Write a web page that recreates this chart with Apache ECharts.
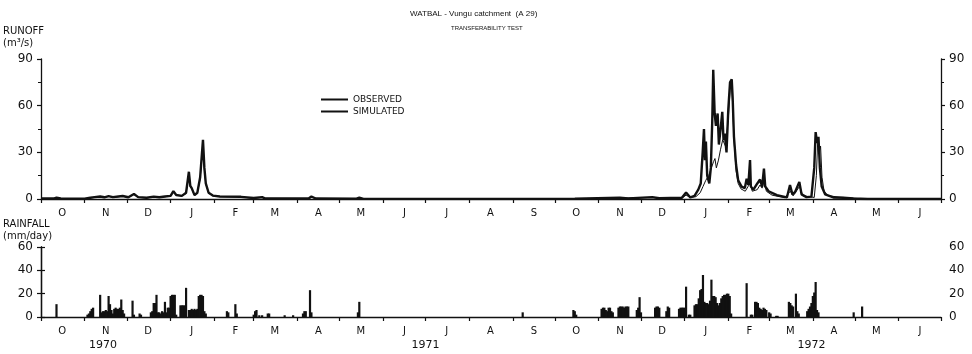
<!DOCTYPE html>
<html>
<head>
<meta charset="utf-8">
<script src="https://cdn.jsdelivr.net/npm/echarts@6/dist/echarts.min.js"></script>
<style>
html, body { margin: 0; background: #fff; }
#chart { width: 972px; height: 354px; }
</style>
</head>
<body>
<div id="chart"></div>
<script>
// daily rainfall (mm/day), only rainy days
var rainfall = [
  ['1970-10-12', 11],
  ['1970-11-03', 2], ['1970-11-04', 3], ['1970-11-05', 5], ['1970-11-06', 7], ['1970-11-07', 8],
  ['1970-11-12', 19], ['1970-11-13', 4], ['1970-11-14', 5], ['1970-11-15', 5], ['1970-11-16', 6], ['1970-11-17', 5],
  ['1970-11-18', 18], ['1970-11-19', 11], ['1970-11-20', 6], ['1970-11-21', 3],
  ['1970-11-22', 7], ['1970-11-23', 8], ['1970-11-24', 7], ['1970-11-25', 7], ['1970-11-26', 8],
  ['1970-11-27', 15], ['1970-11-28', 6], ['1970-11-29', 3],
  ['1970-12-05', 14], ['1970-12-06', 2], ['1970-12-10', 3], ['1970-12-11', 2],
  ['1970-12-18', 4], ['1970-12-19', 5], ['1970-12-20', 12], ['1970-12-21', 12], ['1970-12-22', 19],
  ['1970-12-23', 4], ['1970-12-24', 4], ['1970-12-25', 3], ['1970-12-26', 5], ['1970-12-27', 4],
  ['1970-12-28', 13], ['1970-12-29', 4], ['1970-12-30', 8], ['1970-12-31', 8],
  ['1971-01-01', 18], ['1971-01-02', 19], ['1971-01-03', 19], ['1971-01-04', 19], ['1971-01-05', 2],
  ['1971-01-08', 10], ['1971-01-09', 10], ['1971-01-10', 10], ['1971-01-11', 10], ['1971-01-12', 25],
  ['1971-01-14', 6], ['1971-01-15', 6], ['1971-01-16', 7], ['1971-01-17', 6], ['1971-01-18', 7], ['1971-01-19', 6], ['1971-01-20', 7],
  ['1971-01-21', 18], ['1971-01-22', 19], ['1971-01-23', 19], ['1971-01-24', 18], ['1971-01-25', 5], ['1971-01-26', 3],
  ['1971-02-10', 5], ['1971-02-11', 4], ['1971-02-16', 11], ['1971-02-17', 3],
  ['1971-03-01', 2], ['1971-03-02', 5], ['1971-03-03', 6], ['1971-03-05', 1.5], ['1971-03-07', 1.5],
  ['1971-03-11', 3], ['1971-03-12', 3], ['1971-03-23', 1.5], ['1971-03-29', 1.5],
  ['1971-04-05', 3], ['1971-04-06', 5], ['1971-04-07', 5], ['1971-04-10', 23], ['1971-04-11', 4],
  ['1971-05-14', 4], ['1971-05-15', 13],
  ['1971-09-08', 4],
  ['1971-10-14', 6], ['1971-10-15', 5], ['1971-10-16', 2],
  ['1971-11-03', 7], ['1971-11-04', 8], ['1971-11-05', 8], ['1971-11-06', 6], ['1971-11-07', 5], ['1971-11-08', 8], ['1971-11-09', 8],
  ['1971-11-10', 5], ['1971-11-11', 4],
  ['1971-11-15', 8], ['1971-11-16', 9], ['1971-11-17', 9], ['1971-11-18', 9], ['1971-11-19', 8],
  ['1971-11-20', 9], ['1971-11-21', 9], ['1971-11-22', 9],
  ['1971-11-28', 6], ['1971-11-29', 8], ['1971-11-30', 17], ['1971-12-01', 4],
  ['1971-12-11', 8], ['1971-12-12', 9], ['1971-12-13', 9], ['1971-12-14', 8],
  ['1971-12-19', 5], ['1971-12-20', 9], ['1971-12-21', 8],
  ['1971-12-28', 7], ['1971-12-29', 8], ['1971-12-30', 8], ['1971-12-31', 8], ['1972-01-01', 8],
  ['1972-01-02', 26], ['1972-01-04', 2], ['1972-01-05', 2],
  ['1972-01-08', 10], ['1972-01-09', 11], ['1972-01-10', 11], ['1972-01-11', 16], ['1972-01-12', 23], ['1972-01-13', 24],
  ['1972-01-14', 36], ['1972-01-15', 13], ['1972-01-16', 12], ['1972-01-17', 12], ['1972-01-18', 11],
  ['1972-01-19', 14], ['1972-01-20', 32], ['1972-01-21', 18], ['1972-01-22', 18], ['1972-01-23', 17], ['1972-01-24', 12],
  ['1972-01-25', 10], ['1972-01-26', 12], ['1972-01-27', 16], ['1972-01-28', 18], ['1972-01-29', 19], ['1972-01-30', 19],
  ['1972-01-31', 20], ['1972-02-01', 20], ['1972-02-02', 18], ['1972-02-03', 3],
  ['1972-02-14', 29], ['1972-02-17', 2], ['1972-02-18', 2],
  ['1972-02-20', 13], ['1972-02-21', 13], ['1972-02-22', 12], ['1972-02-23', 8], ['1972-02-24', 7], ['1972-02-25', 6],
  ['1972-02-26', 8], ['1972-02-27', 7], ['1972-02-28', 6], ['1972-03-01', 4], ['1972-03-02', 3],
  ['1972-03-06', 1], ['1972-03-07', 1],
  ['1972-03-15', 13], ['1972-03-16', 12], ['1972-03-17', 10], ['1972-03-18', 9], ['1972-03-20', 20],
  ['1972-03-21', 5], ['1972-03-22', 3],
  ['1972-03-28', 5], ['1972-03-29', 7], ['1972-03-30', 9], ['1972-03-31', 12], ['1972-04-01', 18], ['1972-04-02', 21],
  ['1972-04-03', 30], ['1972-04-04', 6], ['1972-04-05', 4],
  ['1972-04-30', 4], ['1972-05-06', 9]
];

// observed runoff (m3/s)
var observed = [
  ['1970-10-01', 0.3], ['1970-10-10', 0.3], ['1970-10-12', 0.8], ['1970-10-15', 0.3], ['1970-11-01', 0.2],
  ['1970-11-05', 0.7], ['1970-11-08', 1.1], ['1970-11-12', 1.5], ['1970-11-15', 1.0], ['1970-11-18', 1.7],
  ['1970-11-21', 1.1], ['1970-11-25', 1.5], ['1970-11-28', 1.8], ['1970-12-02', 1.0], ['1970-12-06', 3.0],
  ['1970-12-09', 1.1], ['1970-12-15', 0.7], ['1970-12-20', 1.4], ['1970-12-24', 1.0], ['1970-12-28', 1.5],
  ['1971-01-01', 1.9], ['1971-01-03', 4.5], ['1971-01-05', 2.4], ['1971-01-09', 1.9], ['1971-01-12', 3.5],
  ['1971-01-14', 16], ['1971-01-15', 8], ['1971-01-16', 6.5], ['1971-01-18', 2.3], ['1971-01-20', 3.8],
  ['1971-01-22', 13], ['1971-01-24', 36], ['1971-01-25', 19], ['1971-01-26', 9.5], ['1971-01-28', 3.8],
  ['1971-01-31', 2.0], ['1971-02-05', 1.5], ['1971-02-20', 1.3], ['1971-03-01', 0.5], ['1971-03-07', 1.0],
  ['1971-03-09', 0.4], ['1971-04-09', 0.3], ['1971-04-11', 1.3], ['1971-04-14', 0.3], ['1971-05-13', 0.2],
  ['1971-05-15', 0.6], ['1971-05-18', 0.1], ['1971-10-15', 0.1], ['1971-11-16', 0.5], ['1971-12-09', 0.9],
  ['1971-12-30', 0.5], ['1972-01-02', 2.5], ['1972-01-05', 1.0], ['1972-01-09', 1.5], ['1972-01-12', 4],
  ['1972-01-14', 8], ['1972-01-16', 12], ['1972-01-18', 15], ['1972-01-20', 20], ['1972-01-21 12:00', 24],
  ['1972-01-22 12:00', 26], ['1972-01-23 12:00', 20], ['1972-01-25', 25], ['1972-01-26 12:00', 32],
  ['1972-01-28', 38], ['1972-01-30', 34], ['1972-02-01', 52], ['1972-02-02 06:00', 70], ['1972-02-03 06:00', 74],
  ['1972-02-04', 62], ['1972-02-05', 38], ['1972-02-06 12:00', 18], ['1972-02-08', 10], ['1972-02-10', 6.5],
  ['1972-02-13', 5], ['1972-02-15', 8], ['1972-02-16 12:00', 10], ['1972-02-18', 5], ['1972-02-21 12:00', 6],
  ['1972-02-23 12:00', 9], ['1972-02-25', 7], ['1972-02-26 12:00', 12], ['1972-02-28', 5], ['1972-03-03', 2.5],
  ['1972-03-12', 0.8], ['1972-03-16', 5], ['1972-03-18', 2], ['1972-03-22 12:00', 8], ['1972-03-25', 2],
  ['1972-04-02', 1], ['1972-04-03 12:00', 15], ['1972-04-04 12:00', 38], ['1972-04-05 12:00', 30],
  ['1972-04-06 12:00', 34], ['1972-04-07 12:00', 14], ['1972-04-09', 5], ['1972-04-12', 2], ['1972-04-25', 0.8],
  ['1972-05-05', 0.2], ['1972-07-01', 0]
];

// simulated runoff (m3/s)
var simulated = [
  ['1970-10-01', 0.3], ['1970-10-10', 0.3], ['1970-10-12', 0.9], ['1970-10-15', 0.3], ['1970-11-01', 0.2],
  ['1970-11-05', 0.8], ['1970-11-08', 1.2], ['1970-11-12', 1.6], ['1970-11-15', 1.1], ['1970-11-18', 1.8],
  ['1970-11-21', 1.2], ['1970-11-25', 1.6], ['1970-11-28', 1.9], ['1970-12-02', 1.1], ['1970-12-06', 3.2],
  ['1970-12-09', 1.2], ['1970-12-15', 0.8], ['1970-12-20', 1.5], ['1970-12-24', 1.1], ['1970-12-28', 1.6],
  ['1971-01-01', 2.0], ['1971-01-03', 5.0], ['1971-01-05', 2.6], ['1971-01-09', 2.0], ['1971-01-12', 4.0],
  ['1971-01-14', 17.5], ['1971-01-15', 8.5], ['1971-01-16', 7.0], ['1971-01-18', 2.5], ['1971-01-20', 4.0],
  ['1971-01-22', 14], ['1971-01-24', 38], ['1971-01-25', 20], ['1971-01-26', 10], ['1971-01-28', 4],
  ['1971-01-31', 2.2], ['1971-02-05', 1.6], ['1971-02-20', 1.4], ['1971-03-01', 0.6], ['1971-03-07', 1.2],
  ['1971-03-09', 0.4], ['1971-04-09', 0.3], ['1971-04-11', 1.6], ['1971-04-14', 0.3], ['1971-05-13', 0.2],
  ['1971-05-15', 0.8], ['1971-05-18', 0.1], ['1971-10-15', 0.2], ['1971-11-16', 0.8], ['1971-11-22', 0.4],
  ['1971-12-09', 1.2], ['1971-12-14', 0.5], ['1971-12-30', 0.8], ['1972-01-02', 4.2], ['1972-01-05', 1.0],
  ['1972-01-08', 2], ['1972-01-10 16:00', 6], ['1972-01-12 10:00', 10], ['1972-01-13 19:00', 30],
  ['1972-01-14 17:00', 45], ['1972-01-15 10:00', 25], ['1972-01-16 02:00', 37], ['1972-01-17', 15],
  ['1972-01-18 12:00', 10], ['1972-01-19 14:00', 20], ['1972-01-20 14:00', 50], ['1972-01-21 07:00', 83],
  ['1972-01-22 07:00', 55], ['1972-01-23 05:00', 47], ['1972-01-24 10:00', 55], ['1972-01-25 07:00', 35],
  ['1972-01-26 12:00', 45], ['1972-01-27 17:00', 56], ['1972-01-28 14:00', 38], ['1972-01-29 12:00', 42],
  ['1972-01-30 17:00', 30], ['1972-02-01', 58], ['1972-02-02 05:00', 75], ['1972-02-03 10:00', 77],
  ['1972-02-04 02:00', 65], ['1972-02-05', 40], ['1972-02-06 12:00', 22], ['1972-02-08', 12],
  ['1972-02-10 10:00', 8], ['1972-02-12 17:00', 7], ['1972-02-14', 13], ['1972-02-15 05:00', 9],
  ['1972-02-16 10:00', 25], ['1972-02-17', 8], ['1972-02-18 19:00', 6], ['1972-02-21 14:00', 10],
  ['1972-02-23 12:00', 12.5], ['1972-02-25', 8], ['1972-02-26 07:00', 19.5], ['1972-02-27 05:00', 8],
  ['1972-02-29 14:00', 5], ['1972-03-06 12:00', 2.5], ['1972-03-13 14:00', 1], ['1972-03-15 19:00', 9],
  ['1972-03-17 12:00', 3], ['1972-03-19 10:00', 4.5], ['1972-03-22 10:00', 11], ['1972-03-24', 3],
  ['1972-03-27 12:00', 1.2], ['1972-03-31', 1.5], ['1972-04-02', 20], ['1972-04-03', 43], ['1972-04-04', 36],
  ['1972-04-05', 40], ['1972-04-06', 20], ['1972-04-07 07:00', 8], ['1972-04-09 17:00', 3],
  ['1972-04-15 14:00', 1], ['1972-04-22 17:00', 0.8], ['1972-04-29 19:00', 0.3], ['1972-05-10', 0],
  ['1972-07-01', 0]
];

var monthLetters = ['J', 'F', 'M', 'A', 'M', 'J', 'J', 'A', 'S', 'O', 'N', 'D'];
var yearLabelDates = ['1970-11-14', '1971-07-01', '1972-03-31'];

// x axis runs in days from 1 Oct 1970
var T0 = Date.UTC(1970, 9, 1);
function dayOf(s) {
  var m = s.match(/(\d+)-(\d+)-(\d+)(?: (\d+):(\d+))?/);
  return (Date.UTC(+m[1], +m[2] - 1, +m[3], +(m[4] || 0), +(m[5] || 0)) - T0) / 86400000;
}
function dateOf(d) { return new Date(T0 + d * 86400000); }
function toXY(list) { return list.map(function (p) { return [dayOf(p[0]), p[1]]; }); }

var monthStarts = [], monthMids = [];
for (var i = 0; i <= 21; i++) {
  monthStarts.push((Date.UTC(1970, 9 + i, 1) - T0) / 86400000);
  if (i < 21) monthMids.push((Date.UTC(1970, 9 + i, 16) - T0) / 86400000);
}
var lastDay = monthStarts[21];
var yearDays = yearLabelDates.map(dayOf);

var ink = '#111';
var font = 'DejaVu Sans';
var titleFont = 'Liberation Sans';

function monthAxis(gridIndex) {
  return {
    type: 'value',
    gridIndex: gridIndex,
    min: 0,
    max: lastDay,
    axisLine: { lineStyle: { color: ink, width: 1.3 } },
    axisTick: { customValues: monthStarts, length: 4, lineStyle: { color: ink, width: 1.2 } },
    axisLabel: {
      customValues: monthMids,
      color: ink, fontSize: 10, fontFamily: font, margin: 9,
      formatter: function (v) { return monthLetters[dateOf(v).getUTCMonth()]; }
    },
    splitLine: { show: false }
  };
}

function valueAxis(gridIndex, pos, max, step, minor) {
  return {
    type: 'value',
    gridIndex: gridIndex,
    position: pos,
    min: 0, max: max, interval: step,
    axisLine: { show: true, lineStyle: { color: ink, width: 1.3 } },
    axisTick: { show: true, length: 4, lineStyle: { color: ink, width: 1.2 } },
    minorTick: { show: minor, splitNumber: 2, length: 3, lineStyle: { color: ink } },
    axisLabel: { color: ink, fontSize: 12, fontFamily: font, margin: 8 },
    splitLine: { show: false }
  };
}

var chart = echarts.init(document.getElementById('chart'));
chart.setOption({
  animation: false,
  backgroundColor: '#fff',
  textStyle: { fontFamily: font, color: ink },
  title: [
    { text: 'WATBAL - Vungu catchment  (A 29)', left: 410, top: 10, padding: 0,
      textStyle: { fontSize: 8, fontWeight: 'normal', color: ink, fontFamily: titleFont } },
    { text: 'TRANSFERABILITY TEST', left: 451, top: 25, padding: 0,
      textStyle: { fontSize: 6, fontWeight: 'normal', color: ink, fontFamily: titleFont } },
    { text: 'RUNOFF\n(m\u00b3/s)', left: 3, top: 25, padding: 0,
      textStyle: { fontSize: 10, lineHeight: 12, fontWeight: 'normal', color: ink, fontFamily: font } },
    { text: 'RAINFALL\n(mm/day)', left: 3, top: 218, padding: 0,
      textStyle: { fontSize: 10, lineHeight: 12, fontWeight: 'normal', color: ink, fontFamily: font } }
  ],
  legend: {
    data: ['OBSERVED', 'SIMULATED'],
    orient: 'vertical',
    left: 320, top: 95,
    padding: 0,
    itemGap: 3,
    itemWidth: 27, itemHeight: 9,
    itemStyle: { opacity: 0 },
    textStyle: { fontSize: 9, color: ink, fontFamily: font }
  },
  grid: [
    { left: 41, right: 31, top: 59, height: 140 },
    { left: 41, right: 31, top: 247, height: 70 }
  ],
  xAxis: [
    monthAxis(0),
    monthAxis(1),
    {
      type: 'value', gridIndex: 1, position: 'bottom', offset: 14,
      min: 0, max: lastDay,
      axisLine: { show: false }, axisTick: { show: false }, splitLine: { show: false },
      axisLabel: {
        customValues: yearDays,
        color: ink, fontSize: 11, fontFamily: font, margin: 9,
        formatter: function (v) { return String(dateOf(v).getUTCFullYear()); }
      }
    }
  ],
  yAxis: [
    valueAxis(0, 'left', 90, 30, true),
    valueAxis(0, 'right', 90, 30, true),
    valueAxis(1, 'left', 60, 20, false),
    valueAxis(1, 'right', 60, 20, false)
  ],
  series: [
    {
      name: 'OBSERVED', type: 'line', xAxisIndex: 0, yAxisIndex: 0,
      data: toXY(observed), symbol: 'none', color: ink,
      lineStyle: { width: 1, color: ink }
    },
    {
      name: 'SIMULATED', type: 'line', xAxisIndex: 0, yAxisIndex: 0,
      data: toXY(simulated), symbol: 'none', color: ink,
      lineStyle: { width: 2.4, color: ink }
    },
    {
      name: 'RAINFALL', type: 'bar', xAxisIndex: 1, yAxisIndex: 2,
      data: toXY(rainfall), barWidth: 2.2, itemStyle: { color: ink }
    }
  ]
});
</script>
</body>
</html>
